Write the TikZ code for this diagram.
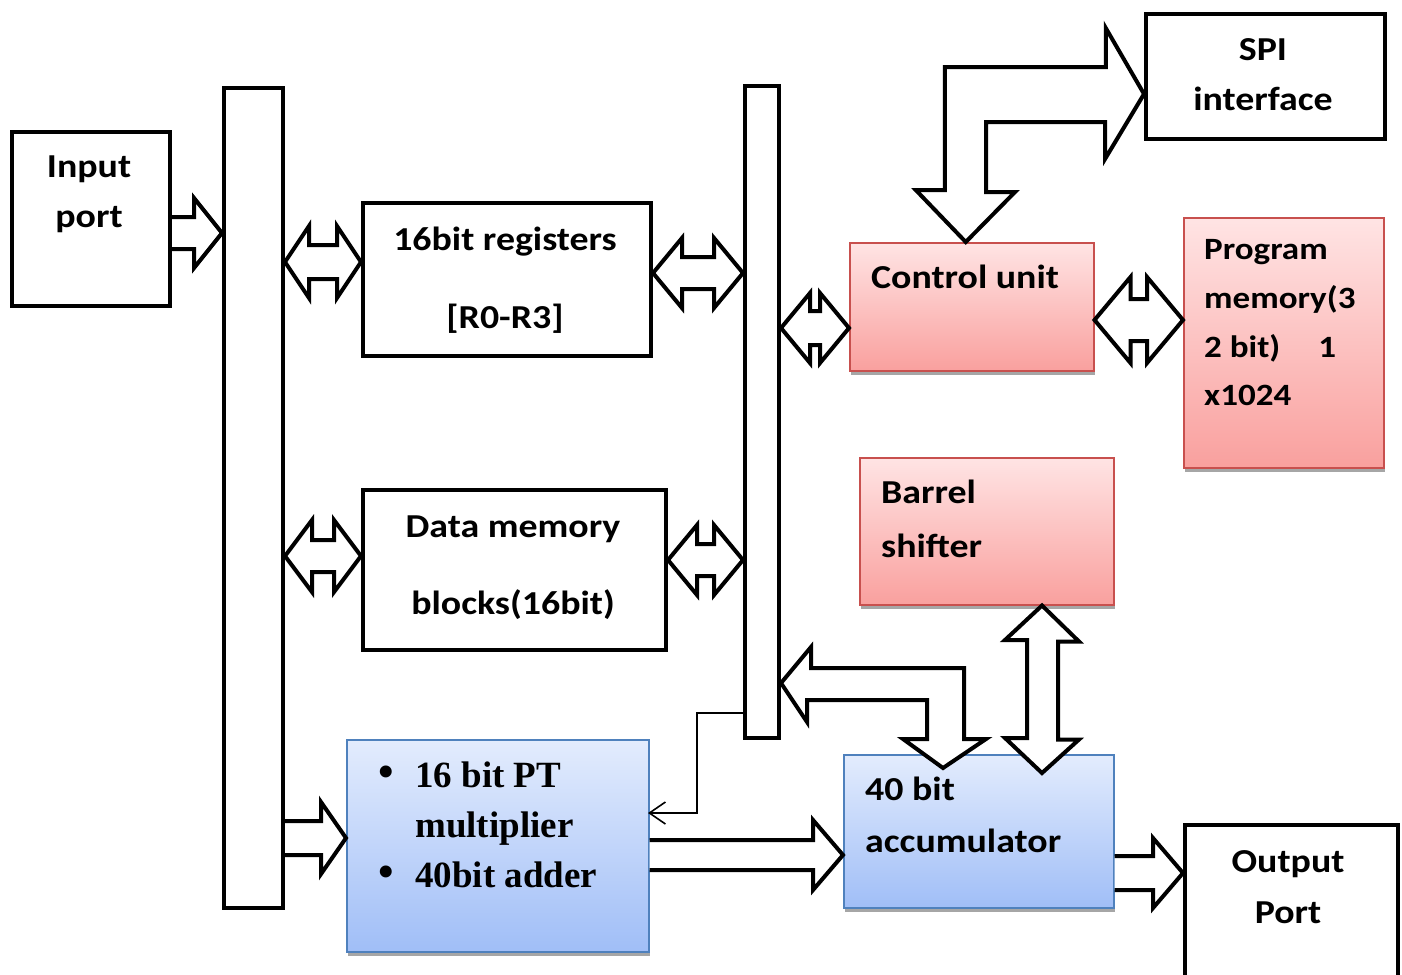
\documentclass[tikz,border=0pt]{standalone}
\usepackage{fontspec}
\setmainfont{Carlito}[FakeStretch=1.13]
\newfontfamily\timesbf{Liberation Serif}
\usetikzlibrary{calc,shadows,arrows.meta}
\definecolor{pinktop}{HTML}{FFE4E4}
\definecolor{pinkbot}{HTML}{F9A09E}
\definecolor{pinkline}{HTML}{C8504E}
\definecolor{bluetop}{HTML}{E3ECFD}
\definecolor{bluebot}{HTML}{A0BEF7}
\definecolor{blueline}{HTML}{4F81BD}
% horizontal double block arrow: left tip, right tip, y, shaft half, head half, head length
\newcommand\HDA[6]{%
  \draw[barrow] let \p1=(#1), \p2=(#2), \p3=(0,#3) in
   (\x1,\y3) -- (\x1+#6bp,\y3+#5bp) -- (\x1+#6bp,\y3+#4bp) -- (\x2-#6bp,\y3+#4bp)
   -- (\x2-#6bp,\y3+#5bp) -- (\x2,\y3) -- (\x2-#6bp,\y3-#5bp) -- (\x2-#6bp,\y3-#4bp)
   -- (\x1+#6bp,\y3-#4bp) -- (\x1+#6bp,\y3-#5bp) -- cycle;}
% horizontal single block arrow: tail, tip, y, shaft half, head half, head length
\newcommand\HSA[6]{%
  \draw[barrow] let \p1=(#1), \p2=(#2), \p3=(0,#3) in
   (\x1,\y3+#4bp) -- (\x2-#6bp,\y3+#4bp) -- (\x2-#6bp,\y3+#5bp) -- (\x2,\y3)
   -- (\x2-#6bp,\y3-#5bp) -- (\x2-#6bp,\y3-#4bp) -- (\x1,\y3-#4bp);}
\begin{document}
\begin{tikzpicture}[x={(1bp,0)}, y={(0,-1bp)},
  sz/.style 2 args={minimum width=#1bp, minimum height=#2bp},
  blk/.style={rectangle, draw, line width=4bp, fill=white, inner sep=0, anchor=north west},
  pinkbox/.style={rectangle, inner sep=0, anchor=north west, draw=pinkline, line width=1.5bp,
    top color=pinktop, bottom color=pinkbot,
    drop shadow={shadow xshift=1bp, shadow yshift=-4bp, fill=black!35, opacity=1}},
  bluebox/.style={rectangle, inner sep=0, anchor=north west, draw=blueline, line width=1.5bp,
    top color=bluetop, bottom color=bluebot,
    drop shadow={shadow xshift=1bp, shadow yshift=-4bp, fill=black!35, opacity=1}},
  barrow/.style={draw, line width=4bp, fill=white, line join=miter},
  thinarrow/.style={draw, line width=1.6bp, -{Straight Barb[length=16bp,width=22bp,line width=1.6bp]}},
  cal/.style={font=\fontsize{33.5bp}{40bp}\selectfont\bfseries, inner sep=0},
  calsm/.style={font=\fontsize{31bp}{38bp}\selectfont\bfseries, inner sep=0},
  tms/.style={font=\timesbf\fontsize{37bp}{42bp}\selectfont\bfseries, inner sep=0},
  bul/.style={font=\timesbf\fontsize{50bp}{50bp}\selectfont, inner sep=0}]
\useasboundingbox (0,0) rectangle (1402,974);
\fill[white] (0,0) rectangle (1402,974);

% boxes
\node[blk, sz={158}{174}] (inport) at (10,130) {};
\node[blk, sz={59}{820}]  (lbus)   at (222,86) {};
\node[blk, sz={288}{153}] (reg)    at (361,201) {};
\node[blk, sz={303}{160}] (dmem)   at (361,488) {};
\node[blk, sz={34}{652}]  (mbus)   at (743,84) {};
\node[blk, sz={239}{125}] (spi)    at (1144,12) {};
\node[blk, sz={213}{170}] (outp)   at (1183,823) {};
\node[pinkbox, sz={244}{128}] (ctrl)   at (849,242) {};
\node[pinkbox, sz={200}{250}] (pmem)   at (1183,217) {};
\node[pinkbox, sz={254}{147}] (barrel) at (859,457) {};
\node[bluebox, sz={302}{212}] (mult)   at (346,739) {};
\node[bluebox, sz={270}{153}] (acc)    at (843,754) {};

% texts
\node[cal, anchor=base] (t1) at (89,177) {Input};
\node[cal, anchor=base] (t2) at (89,227) {port};
\node[cal, anchor=base] (t3) at (505,250) {16bit registers};
\node[cal, anchor=base] (t4) at (505,328) {[R0-R3]};
\node[cal, anchor=base] (t5) at (513,537) {Data memory};
\node[cal, anchor=base] (t6) at (513,614) {blocks(16bit)};
\node[cal, anchor=base west] (t7) at (871,288) {Control unit};
\node[calsm, anchor=base west] (t8) at (1204,259) {Program};
\node[calsm, anchor=base west] (t9) at (1204,308) {memory(3};
\node[calsm, anchor=base west] (t10) at (1204,357) {2 bit)\hspace{38bp}1};
\node[calsm, anchor=base west] (t11) at (1204,405) {x1024};
\node[cal, anchor=base] (t12) at (1263,60) {SPI};
\node[cal, anchor=base] (t13) at (1263,110) {interface};
\node[cal, anchor=base west] (t14) at (881,503) {Barrel};
\node[cal, anchor=base west] (t15) at (881,557) {shifter};
\node[cal, anchor=base west] (t16) at (865,800) {40 bit};
\node[cal, anchor=base west] (t17) at (865,852) {accumulator};
\node[cal, anchor=base] (t18) at (1288,872) {Output};
\node[cal, anchor=base] (t19) at (1288,923) {Port};
\node[bul] (b1) at (386,777) {\textbullet};
\node[bul] (b2) at (386,877) {\textbullet};
\node[tms, anchor=base west] (t20) at (415,787) {16 bit PT};
\node[tms, anchor=base west] (t21) at (415,837) {multiplier};
\node[tms, anchor=base west] (t22) at (415,887) {40bit adder};

% straight block arrows
\HSA{inport.east}{lbus.west}{233}{16}{35}{28}
\HDA{lbus.east}{reg.west}{262}{17}{36}{24}
\HDA{reg.east}{mbus.west}{273}{16}{35}{29}
\HDA{lbus.east}{dmem.west}{556}{16}{36}{27}
\HDA{dmem.east}{mbus.west}{560}{16}{35}{29}
\HDA{mbus.east}{ctrl.west}{328}{17}{35}{29}
\HDA{ctrl.east}{pmem.west}{320}{21}{43}{36}
\HSA{lbus.east}{mult.west}{838}{17}{36}{25}
\HSA{mult.east}{acc.west}{855}{15}{35}{30}
\HSA{acc.east}{outp.west}{873}{17}{35}{30}

% barrel shifter <-> accumulator
\coordinate (bs) at ($(barrel.south west)+(183,0)$);
\coordinate (ab) at ($(acc.north west)+(199,19)$);
\draw[barrow] (bs) -- ++(37,36) -- ++(-21,0) -- ++(0,98) -- ++(21,0) -- (ab)
  -- ++(-37,-35) -- ++(22,0) -- ++(0,-98) -- ++(-22,0) -- cycle;

% SPI <-> control unit bent arrow
\coordinate (st) at ($(spi.west)+(0,17.5)$);
\coordinate (cd) at ($(ctrl.north)+(-6,0)$);
\draw[barrow] (st) -- ++(-39,65) -- ++(0,-37) -- ++(-119,0) -- ++(0,70) -- ++(29,0)
  -- (cd) -- ++(-50,-52) -- ++(29,0) -- ++(0,-123) -- ++(161,0) -- ++(0,-39) -- cycle;

% accumulator <-> middle bus bent arrow
\coordinate (mt) at ($(mbus.north east)+(0,599)$);
\coordinate (ad) at ($(acc.north west)+(100,14)$);
\draw[barrow] (mt) -- ++(30,-36) -- ++(0,21) -- ++(153,0) -- ++(0,71) -- ++(22,0)
  -- (ad) -- ++(-40,-29) -- ++(24,0) -- ++(0,-39) -- ++(-120,0) -- ++(0,22) -- cycle;

% thin feedback arrow
\coordinate (fb) at ($(mbus.north west)+(0,629)$);
\draw[thinarrow] (fb) -- ++(-46,0) -- ++(0,100) -- ++(-49,0);
\end{tikzpicture}
\end{document}
